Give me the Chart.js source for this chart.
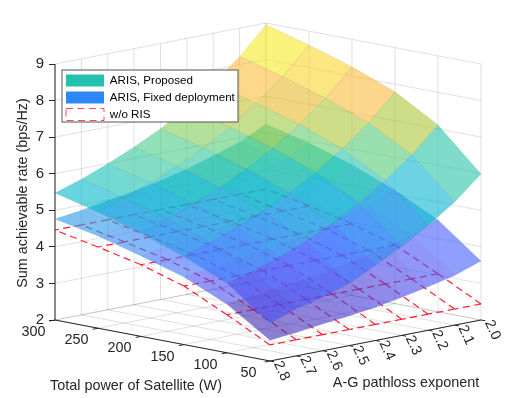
<!DOCTYPE html>
<html><head><meta charset="utf-8">
<style>html,body{margin:0;padding:0;background:#fff}canvas{display:block}</style>
<script src="https://cdn.jsdelivr.net/npm/chart.js@4"></script></head>
<body><div style="position:relative;width:517px;height:398px"><canvas id="c"></canvas></div>
<script>
// ---- categories / ticks
const powers = [50, 100, 150, 200, 250, 300];
const exponents = [2.0, 2.1, 2.2, 2.3, 2.4, 2.5, 2.6, 2.7, 2.8];
const powerLabels = ['50', '100', '150', '200', '250', '300'];
const exponentLabels = ['2.0', '2.1', '2.2', '2.3', '2.4', '2.5', '2.6', '2.7', '2.8'];
const rateTicks = [2, 3, 4, 5, 6, 7, 8, 9];
const seriesNames = ['ARIS, Proposed', 'ARIS, Fixed deployment', 'w/o RIS'];
// ---- values: one row per exponent, one column per power
const proposed = [
  [5.99, 7.11, 7.79, 8.25, 8.62, 8.95],
  [5.37, 6.43, 7.08, 7.53, 7.90, 8.22],
  [4.87, 5.87, 6.51, 6.95, 7.31, 7.63],
  [4.43, 5.38, 6.00, 6.44, 6.80, 7.11],
  [4.06, 4.97, 5.58, 6.01, 6.37, 6.67],
  [3.70, 4.63, 5.22, 5.65, 6.01, 6.31],
  [3.47, 4.34, 4.92, 5.34, 5.70, 5.99],
  [3.29, 4.08, 4.65, 5.07, 5.42, 5.71],
  [3.04, 3.90, 4.41, 4.83, 5.18, 5.47]];
const fixedDeployment = [
  [3.61, 4.51, 5.10, 5.57, 5.94, 6.24],
  [3.36, 4.23, 4.80, 5.24, 5.60, 5.88],
  [3.19, 4.04, 4.60, 5.02, 5.37, 5.65],
  [3.04, 3.86, 4.41, 4.82, 5.16, 5.43],
  [2.91, 3.72, 4.26, 4.65, 4.99, 5.25],
  [2.81, 3.60, 4.14, 4.52, 4.85, 5.10],
  [2.73, 3.51, 4.04, 4.41, 4.73, 4.98],
  [2.64, 3.41, 3.94, 4.30, 4.62, 4.86],
  [2.57, 3.33, 3.85, 4.20, 4.52, 4.76]];
const withoutRis = [
  [2.44, 3.04, 3.60, 3.96, 4.22, 4.46],
  [2.44, 3.04, 3.60, 3.96, 4.22, 4.46],
  [2.44, 3.04, 3.60, 3.96, 4.22, 4.46],
  [2.44, 3.04, 3.60, 3.96, 4.22, 4.46],
  [2.44, 3.04, 3.60, 3.96, 4.22, 4.46],
  [2.44, 3.04, 3.60, 3.96, 4.22, 4.46],
  [2.44, 3.04, 3.60, 3.96, 4.22, 4.46],
  [2.44, 3.04, 3.60, 3.96, 4.22, 4.46],
  [2.44, 3.04, 3.60, 3.96, 4.22, 4.46]];
// ---- MATLAB parula colormap
const parula = [[.2422,.1504,.6603],[.2504,.1650,.7076],[.2578,.1818,.7511],[.2647,.1978,.7952],[.2706,.2147,.8364],[.2751,.2342,.8710],[.2783,.2559,.8991],[.2803,.2782,.9221],[.2813,.3006,.9414],[.2810,.3228,.9579],[.2795,.3447,.9717],[.2760,.3667,.9829],[.2699,.3892,.9906],[.2602,.4123,.9952],[.2440,.4358,.9988],[.2206,.4603,.9973],[.1963,.4847,.9892],[.1834,.5074,.9798],[.1786,.5289,.9682],[.1764,.5499,.9520],[.1687,.5703,.9359],[.1540,.5902,.9218],[.1460,.6091,.9079],[.1380,.6276,.8973],[.1248,.6459,.8883],[.1113,.6635,.8763],[.0952,.6798,.8598],[.0689,.6948,.8394],[.0297,.7082,.8163],[.0036,.7203,.7917],[.0067,.7312,.7660],[.0433,.7411,.7394],[.0964,.7500,.7120],[.1408,.7584,.6842],[.1717,.7670,.6554],[.1938,.7758,.6251],[.2161,.7843,.5923],[.2470,.7918,.5567],[.2906,.7973,.5188],[.3406,.8008,.4789],[.3909,.8029,.4354],[.4456,.8024,.3909],[.5044,.7993,.3480],[.5616,.7942,.3045],[.6174,.7876,.2612],[.6720,.7793,.2227],[.7242,.7698,.1910],[.7738,.7598,.1646],[.8203,.7498,.1535],[.8634,.7406,.1596],[.9035,.7330,.1774],[.9393,.7288,.2100],[.9728,.7298,.2394],[.9956,.7434,.2371],[.9970,.7659,.2199],[.9952,.7893,.2028],[.9892,.8136,.1885],[.9786,.8386,.1766],[.9676,.8639,.1643],[.9610,.8890,.1537],[.9597,.9135,.1423],[.9628,.9373,.1265],[.9691,.9606,.1064],[.9769,.9839,.0805]];
// ---- view of the 3-D box on the chart's two scales
const view = {uBack: 0.4953, uFront: 0.5047, rise: 1.121};
const faceAlpha = 0.6, TEXT = '#262626', FONT = 'Liberation Sans, Arial, sans-serif';
const pMax = 300, pMin = 50, eMin = 2.0, eMax = 2.8, zMin = 2, zMax = 9;
function project(p, e, z) {
  const s = (pMax - p) / (pMax - pMin), t = (eMax - e) / (eMax - eMin);
  return {x: s * view.uFront + t * view.uBack, y: z - s * view.rise + t * view.rise};
}
const colorLow = 2.44, colorHigh = 8.95;
function faceColor(z) {
  const k = Math.min(63, Math.max(0, Math.floor((z - colorLow) / (colorHigh - colorLow) * 64)));
  const c = parula[k];
  return `rgba(${Math.round(c[0]*255)},${Math.round(c[1]*255)},${Math.round(c[2]*255)},${faceAlpha})`;
}
const base = {type: 'scatter', showLine: true, pointRadius: 0, pointHitRadius: 0, clip: false, tension: 0, fill: false, borderCapStyle: 'butt'};
function line(points, color, width, dash) {
  return {...base, data: points, borderColor: color, borderWidth: width, borderDash: dash || []};
}
const drawn = [];  // painter's order: first = furthest
const GRID = 'rgba(38,38,38,0.14)';
// walls and floor
for (const z of rateTicks) {
  drawn.push(line([project(pMax, eMax, z), project(pMax, eMin, z), project(pMin, eMin, z)], GRID, 1));
}
for (const e of exponents) {
  drawn.push(line([project(pMin, e, zMin), project(pMax, e, zMin), project(pMax, e, zMax)], GRID, 1));
}
for (const p of powers) {
  drawn.push(line([project(p, eMax, zMin), project(p, eMin, zMin), project(p, eMin, zMax)], GRID, 1));
}
// w/o RIS mesh: each cell edge separately, so the dash restarts at every vertex
const RED = 'rgba(255,10,30,0.9)', RED_DASH = [7, 4.5];
withoutRis.forEach((row, i) => {
  row.forEach((z, j) => {
    if (j + 1 < row.length) drawn.push(line([project(powers[j], exponents[i], z), project(powers[j+1], exponents[i], row[j+1])], RED, 1.2, RED_DASH));
    if (i + 1 < withoutRis.length) drawn.push(line([project(powers[j], exponents[i], z), project(powers[j], exponents[i+1], withoutRis[i+1][j])], RED, 1.2, RED_DASH));
  });
});
// filled surfaces, back cells first
function addSurface(grid) {
  for (let j = powers.length - 2; j >= 0; j--) {
    for (let i = 0; i < exponents.length - 1; i++) {
      const pts = [project(powers[j], exponents[i], grid[i][j]),
                   project(powers[j+1], exponents[i], grid[i][j+1]),
                   project(powers[j+1], exponents[i+1], grid[i+1][j+1]),
                   project(powers[j], exponents[i+1], grid[i+1][j]),
                   project(powers[j], exponents[i], grid[i][j])];
      const col = faceColor(grid[i][j]);
      drawn.push({...base, data: pts, fill: 'shape', backgroundColor: col,
                  borderColor: 'rgba(30,70,90,0.13)', borderWidth: 0.6});
    }
  }
}
addSurface(fixedDeployment);
addSurface(proposed);
// dark axes
drawn.push(line([project(pMax, eMax, zMin), project(pMax, eMax, zMax)], TEXT, 1));
drawn.push(line([project(pMax, eMax, zMin), project(pMin, eMax, zMin), project(pMin, eMin, zMin)], TEXT, 1));
for (const p of powers) drawn.push(line([project(p, eMax, zMin), project(p, eMax + 0.02, zMin)], TEXT, 1));
for (const e of exponents) drawn.push(line([project(pMin, e, zMin), project(pMin - 5, e, zMin)], TEXT, 1));

// Chart.js draws the last dataset first, so hand them over reversed
const datasets = drawn.slice().reverse();

const legendColors = ['rgb(34,193,175)', 'rgb(46,135,245)'];
const plotTop = 14, plotBottom = 372, plotLeft = 55, plotRight = 481, pxPerRate = 256 / 7;
const axisLabels = {
  id: 'axisLabels',
  beforeLayout(chart) {
    const legend = chart.legend;
    legend._layers = () => [{z: 5, draw() {
      const c = chart.ctx;
      c.save();
      c.fillStyle = '#fff'; c.strokeStyle = '#555'; c.lineWidth = 1;
      c.fillRect(62, 70, 176, 52); c.strokeRect(62, 70, 176, 52);
      c.restore();
      legend.left = 61; legend.top = 69.5;
      legend.draw();
    }}];
  },
  afterDatasetsDraw(chart) {
    const c = chart.ctx, xs = chart.scales.x, ys = chart.scales.y;
    c.save();
    c.fillStyle = TEXT; c.font = '14.4px ' + FONT; c.textAlign = 'center'; c.textBaseline = 'middle';
    powers.forEach((p, j) => {
      const a = project(p, eMax, zMin);
      c.fillText(powerLabels[j], xs.getPixelForValue(a.x) - 21.5, ys.getPixelForValue(a.y) + 12);
    });
    exponents.forEach((e, i) => {
      const a = project(pMin, e, zMin);
      c.save();
      c.translate(xs.getPixelForValue(a.x) + 11.5, ys.getPixelForValue(a.y) + 10);
      c.rotate(65 * Math.PI / 180);
      c.fillText(exponentLabels[i], 0, 0);
      c.restore();
    });
    c.fillText('Total power of Satellite (W)', 136, 386);
    c.fillText('A-G pathloss exponent', 406, 383);
    c.restore();
  }
};
new Chart(document.getElementById('c'), {
  data: {datasets},
  options: {
    responsive: true, maintainAspectRatio: false, animation: false,
    events: [],
    layout: {padding: {top: plotTop, bottom: 398 - plotBottom, left: 0, right: 517 - plotRight}},
    scales: {
      x: {type: 'linear', display: false, min: 0, max: 1},
      y: {type: 'linear',
        min: zMin - (plotBottom - 320) / pxPerRate,
        max: zMax + (64 - plotTop) / pxPerRate,
        afterFit(s) { s.width = plotLeft; },
        afterBuildTicks(s) { s.ticks = rateTicks.map(v => ({value: v})); },
        border: {display: false},
        grid: {drawOnChartArea: false, drawTicks: true, tickLength: 6, tickColor: TEXT, tickWidth: 1},
        ticks: {color: TEXT, padding: 5, autoSkip: false, maxRotation: 0, font: {family: FONT, size: 15},
                callback: v => String(v)},
        title: {display: true, text: 'Sum achievable rate (bps/Hz)', color: TEXT,
                padding: {top: 14, bottom: 0}, font: {family: FONT, size: 14.4}}
      }
    },
    plugins: {
      tooltip: {enabled: false},
      legend: {
        display: true, position: 'chartArea', align: 'start',
        labels: {
          color: '#111', boxWidth: 38, boxHeight: 12, padding: 5,
          font: {family: FONT, size: 11.6},
          generateLabels: () => [
            {text: seriesNames[0], fillStyle: legendColors[0], strokeStyle: legendColors[0], lineWidth: 0},
            {text: seriesNames[1], fillStyle: legendColors[1], strokeStyle: legendColors[1], lineWidth: 0},
            {text: seriesNames[2], fillStyle: 'rgba(0,0,0,0)', strokeStyle: 'rgba(255,40,50,0.85)', lineWidth: 1, lineDash: [7, 4.5]}
          ]
        }
      }
    }
  },
  plugins: [axisLabels]
});
</script></body></html>
